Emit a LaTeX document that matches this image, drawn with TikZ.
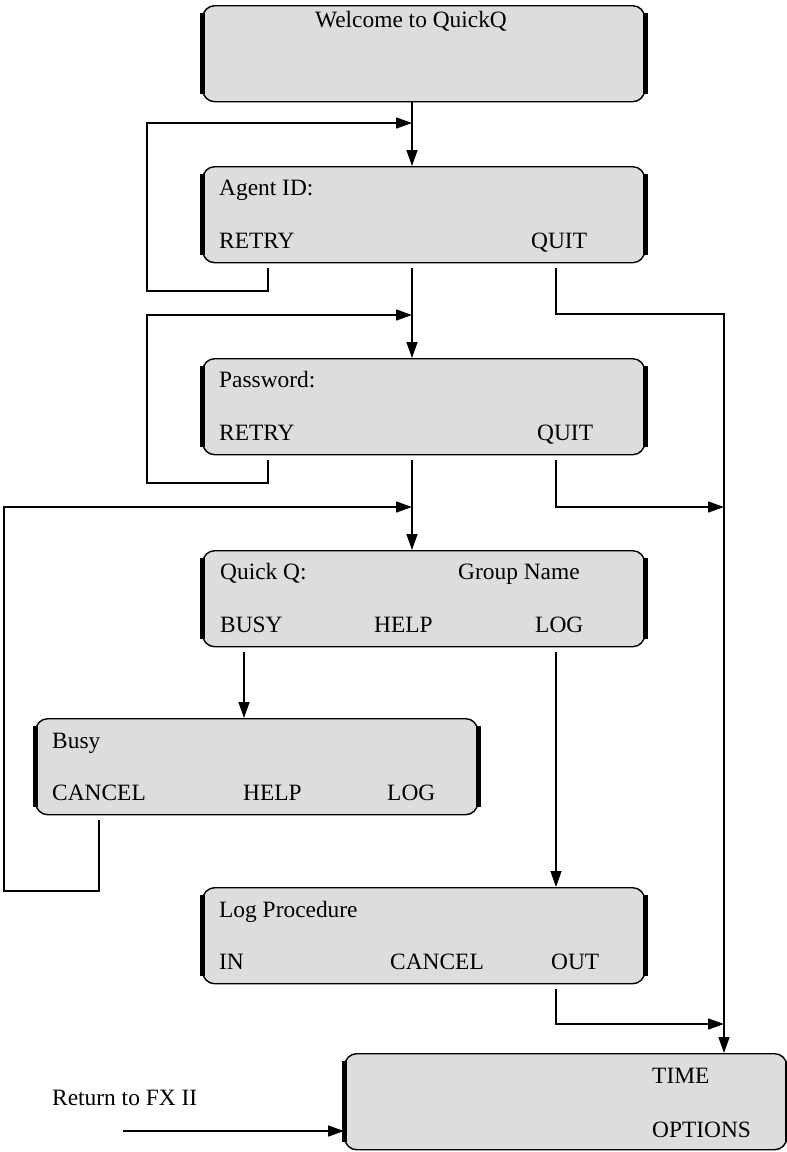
\documentclass[tikz,border=0pt]{standalone}
\usepackage{fontspec}
\setmainfont{Liberation Serif}
\usetikzlibrary{arrows.meta,calc}
\definecolor{lcdgray}{HTML}{DDDDDD}
\tikzset{
  screenbox/.style={draw, fill=lcdgray, line width=1.4pt, rounded corners=12pt,
    minimum width=442pt, minimum height=96pt, inner sep=0pt, anchor=north west},
  lbl/.style={inner sep=0pt, anchor=base west, font=\fontsize{23.4}{28}\selectfont},
  flow/.style={line width=1.6pt, -{Triangle[length=16pt,width=11pt]}}
}
\newcommand{\screen}[3]{ \node[screenbox] (#1) at (#2,#3) {}; \draw[line width=5pt] ([yshift=-8pt]#1.north west) -- ([yshift=8pt]#1.south west); \draw[line width=5pt] ([yshift=-8pt]#1.north east) -- ([yshift=8pt]#1.south east);}

\begin{document}
\begin{tikzpicture}[x=1pt,y=-1pt]
    \useasboundingbox (0,0) rectangle (787,1152);
    % screens
    \screen{welcome}{202}{5}
    \screen{agent}{202}{166}
    \screen{password}{202}{358}
    \screen{quickq}{202}{550}
    \screen{busy}{35}{718}
    \screen{logproc}{202}{887}
    \screen{options}{344}{1053}
    % texts
    \node[lbl, anchor=base] (welcometxt) at (411,27) {Welcome to QuickQ};
    \node[lbl] (agentid) at (219,195) {Agent ID:};
    \node[lbl] (retryA) at (219,248) {RETRY};
    \node[lbl] (quitA) at (531,248) {QUIT};
    \node[lbl] (pwd) at (219,387) {Password:};
    \node[lbl] (retryB) at (219,440) {RETRY};
    \node[lbl] (quitB) at (537,440) {QUIT};
    \node[lbl] (qq) at (220,579) {Quick Q:};
    \node[lbl] (group) at (458,579) {Group Name};
    \node[lbl] (busykey) at (220,632) {BUSY};
    \node[lbl] (helpA) at (374,632) {HELP};
    \node[lbl] (logA) at (535,632) {LOG};
    \node[lbl] (busytitle) at (52,748) {Busy};
    \node[lbl] (cancelA) at (52,800) {CANCEL};
    \node[lbl] (helpB) at (243,800) {HELP};
    \node[lbl] (logB) at (387,800) {LOG};
    \node[lbl] (logtitle) at (219,917) {Log Procedure};
    \node[lbl] (in) at (219,969) {IN};
    \node[lbl] (cancelB) at (390,969) {CANCEL};
    \node[lbl] (out) at (551,969) {OUT};
    \node[lbl] (time) at (652,1083) {TIME};
    \node[lbl] (opts) at (652,1137) {OPTIONS};
    \node[lbl] (ret) at (52,1105) {Return to FX II};
    % columns and joins
    \coordinate (spine) at (412,0);
    \coordinate (retryx) at (268,0);
    \coordinate (quitx) at (556,0);
    \coordinate (busyx) at (244,0);
    \coordinate (cancelx) at (99,0);
    \coordinate (bus) at (724,0);
    \coordinate (fbA) at (412,123);
    \coordinate (fbB) at (412,315);
    \coordinate (fbC) at (412,507);
    \coordinate (quitjoin) at (724,507);
    \coordinate (outjoin) at (724,1024);
    \coordinate (retsrc) at (123,1131);
    % main line
    \draw[flow] (welcome.south -| spine) -- (agent.north -| spine);
    \draw[flow] ($(agent.south -| spine)+(0,5)$) -- (password.north -| spine);
    \draw[flow] ($(password.south -| spine)+(0,5)$) -- (quickq.north -| spine);
    % retry / cancel loops
    \draw[flow] ($(agent.south -| retryx)+(0,5)$) |- (147,291) |- (fbA);
    \draw[flow] ($(password.south -| retryx)+(0,5)$) |- (147,483) |- (fbB);
    \draw[flow] ($(busy.south -| cancelx)+(0,5)$) |- (4,891) |- (fbC);
    % busy and log
    \draw[flow] ($(quickq.south -| busyx)+(0,5)$) -- (busy.north -| busyx);
    \draw[flow] ($(quickq.south -| quitx)+(0,5)$) -- (logproc.north -| quitx);
    % quit / out
    \draw[flow] ($(agent.south -| quitx)+(0,5)$) |- (724,314) -- (options.north -| bus);
    \draw[flow] ($(password.south -| quitx)+(0,5)$) |- (quitjoin);
    \draw[flow] ($(logproc.south -| quitx)+(0,5)$) |- (outjoin);
    % return
    \draw[flow] (retsrc) -- (options.west |- retsrc);
\end{tikzpicture}
\end{document}
